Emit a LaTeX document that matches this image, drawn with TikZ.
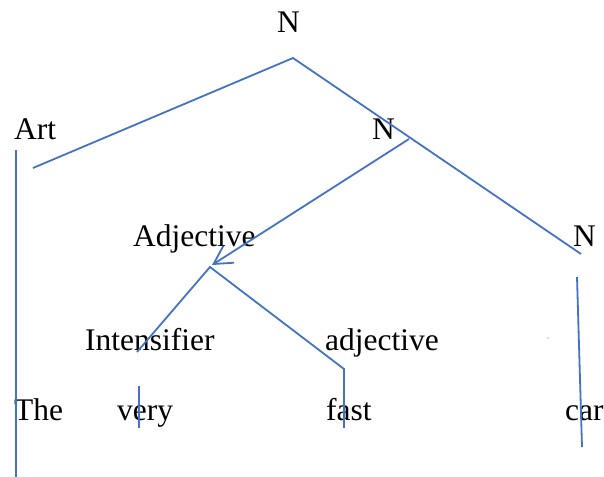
\documentclass[tikz,border=0pt]{standalone}
\usepackage{fontspec}
\setmainfont{Liberation Serif}
\usetikzlibrary{arrows.meta}
\definecolor{lineblue}{RGB}{68,114,196}
\tikzset{
  lbl/.style={anchor=base west, inner sep=0pt, font=\fontsize{31.6}{38}\selectfont, text=black},
  branch/.style={draw=lineblue, line width=1.8bp},
  arr/.style={branch, -{Straight Barb[length=18bp,width=20bp,line width=1.8bp]}}
}
\begin{document}
\begin{tikzpicture}[x=1bp,y=-1bp]
\useasboundingbox (0,0) rectangle (604,477);
% labels
\node[lbl] (nTop) at (277,33) {N};
\node[lbl] (art) at (14,140) {Art};
\node[lbl] (nMid) at (372,140) {N};
\node[lbl] (adjA) at (133,246) {Adjective};
\node[lbl] (nRight) at (573,246) {N};
\node[lbl] (intens) at (85,350) {Intensifier};
\node[lbl] (adjB) at (325,350) {adjective};
\node[lbl] (the) at (14,420) {The};
\node[lbl] (very) at (117,420) {very};
\node[lbl] (fast) at (326,420) {fast};
\node[lbl] (car) at (565,420) {car};
% junction points
\coordinate (apex) at (293,58);
\coordinate (artEnd) at (33,168);
\coordinate (rightEnd) at (581,254);
\coordinate (artTop) at (16,150);
\coordinate (artBot) at (16,477);
\coordinate (nMidPt) at (409,139);
\coordinate (adjApex) at (210,267);
\coordinate (arrTip) at (212,265);
\coordinate (intEnd) at (137,352);
\coordinate (adjBend) at (344,369);
\coordinate (fastBot) at (344,428);
\coordinate (veryTop) at (139,386);
\coordinate (veryBot) at (139,428);
\coordinate (carTop) at (577,277);
\coordinate (carBot) at (582,447);
% connectors
\draw[branch] (artEnd) -- (apex) -- (rightEnd);
\draw[branch] (artTop) -- (artBot);
\draw[arr] (nMidPt) -- (arrTip);
\draw[branch] (intEnd) -- (adjApex) -- (adjBend) -- (fastBot);
\draw[branch] (veryTop) -- (veryBot);
\draw[branch] (carTop) -- (carBot);
\fill[lineblue] (548,338) circle (0.6bp);
\end{tikzpicture}
\end{document}
